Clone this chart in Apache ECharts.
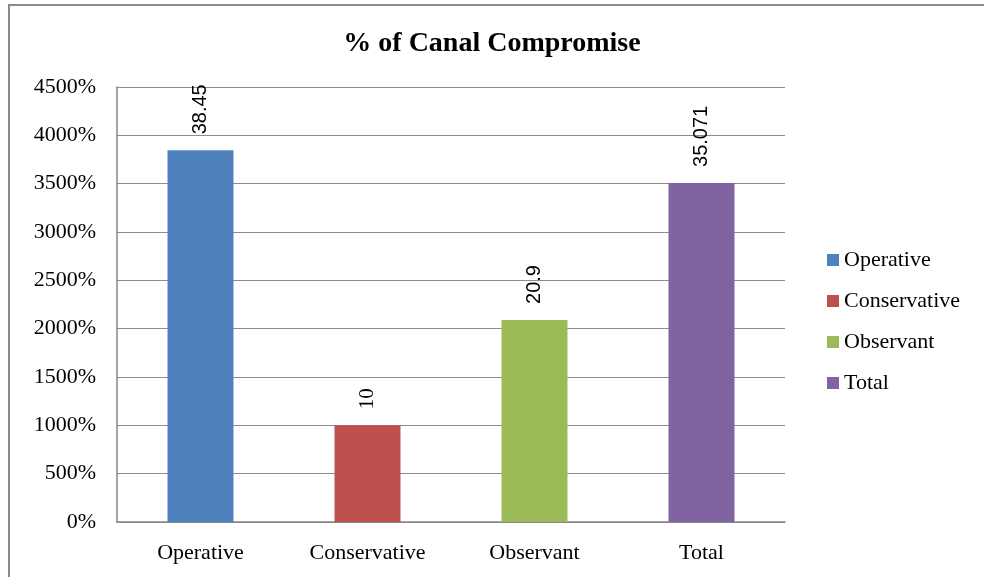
<!DOCTYPE html>
<html>
<head>
<meta charset="utf-8">
<title>% of Canal Compromise</title>
<script src="https://cdn.jsdelivr.net/npm/echarts@6/dist/echarts.min.js"></script>
<style>
  html, body { margin: 0; padding: 0; background: #ffffff; }
  #chart { width: 984px; height: 577px; }
</style>
</head>
<body>
<div id="chart"></div>
<script>
// Group names and their compromise values (the axis shows value x 100 as a percent)
const categories = ['Operative', 'Conservative', 'Observant', 'Total'];
const values = [38.45, 10, 20.9, 35.071];
const axisMin = 0;
const axisMax = 45;
const axisStep = 5;

const palette = ['#4F81BD', '#C0504D', '#9BBB59', '#8064A2'];
const sans = '"Liberation Sans", Arial, sans-serif';
const serif = '"Liberation Serif", "Times New Roman", serif';
const labelFonts = [sans, serif, sans, sans];
const labelSizes = [20, 21, 20, 20];

// One series per group so every group gets its own legend entry;
// barGap -100% keeps each bar centred on its own category.
const series = categories.map((name, i) => ({
  name: name,
  type: 'bar',
  barWidth: 66,
  barGap: '-100%',
  itemStyle: { color: palette[i] },
  label: {
    show: true,
    position: 'top',
    rotate: 90,
    align: 'left',
    verticalAlign: 'middle',
    distance: 16,
    fontSize: labelSizes[i],
    color: '#000',
    fontFamily: labelFonts[i],
    formatter: p => String(p.value)
  },
  data: categories.map((c, j) => (j === i ? values[i] : '-'))
}));

const chart = echarts.init(document.getElementById('chart'));
chart.setOption({
  animation: false,
  backgroundColor: '#ffffff',
  title: {
    text: '% of Canal Compromise',
    left: 'center',
    top: 25,
    textStyle: { fontFamily: serif, fontWeight: 'bold', fontSize: 28, color: '#000' }
  },
  legend: {
    orient: 'vertical',
    left: 822,
    top: 244,
    itemWidth: 12,
    itemHeight: 12,
    itemGap: 19,
    icon: 'rect',
    textStyle: { fontFamily: serif, fontSize: 22, color: '#000' },
    data: categories
  },
  grid: { left: 117, right: 199, top: 87, bottom: 55, containLabel: false },
  xAxis: {
    type: 'category',
    data: categories,
    axisLine: { lineStyle: { color: '#868686', width: 1.5 } },
    axisTick: { show: false },
    axisLabel: { fontFamily: serif, fontSize: 22, color: '#000', margin: 20 }
  },
  yAxis: {
    type: 'value',
    min: axisMin,
    max: axisMax,
    interval: axisStep,
    axisLine: { show: true, lineStyle: { color: '#868686', width: 1.5 } },
    axisTick: { show: false },
    splitLine: { lineStyle: { color: '#8c8c8c', width: 1.2 } },
    axisLabel: {
      fontFamily: serif, fontSize: 22, color: '#000', margin: 21,
      formatter: v => Math.round(v * 100) + '%'
    }
  },
  graphic: [{
    type: 'polyline',
    silent: true,
    shape: { points: [[9, 577], [9, 5], [984, 5]] },
    style: { stroke: '#8a8a8a', lineWidth: 2, fill: null }
  }],
  series: series
});
</script>
</body>
</html>
